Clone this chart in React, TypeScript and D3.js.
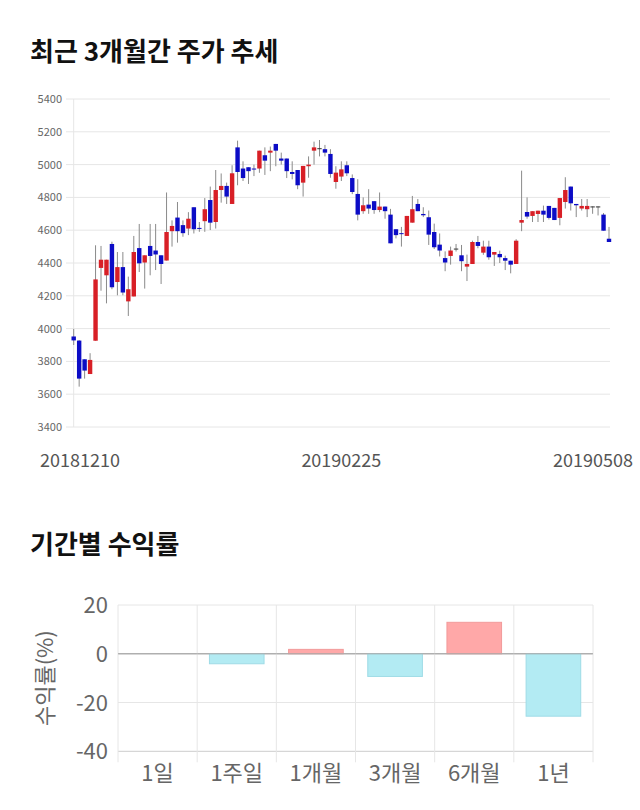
import React from "react";
import * as d3 from "d3";

// ---- Candlestick data (daily, 20181210 .. 20190508) ----
const opens = [
  3952, 3927, 3813, 3723, 3926, 4370, 4325, 4516, 4284, 4375,
  4166, 4196, 4491, 4403, 4504, 4476, 4447, 4415, 4594, 4677,
  4631, 4610, 4740, 4614, 4655, 4784, 4650, 4845, 4870, 4760,
  5105, 4976, 4984, 4976, 4976, 5057, 5073, 5126, 5037, 5037,
  4955, 4967, 4890, 4990, 5085, 5100, 5094, 5065, 4894, 4927,
  4996, 4918, 4821, 4716, 4756, 4777, 4723, 4744, 4695, 4606,
  4582, 4565, 4646, 4760, 4699, 4679, 4589, 4512, 4430, 4443,
  4488, 4447, 4378, 4394, 4528, 4463, 4500, 4451, 4455, 4430,
  4414, 4394, 4646, 4711, 4687, 4699, 4719, 4748, 4736, 4675,
  4772, 4866, 4760, 4732, 4728, 4745, 4745, 4695, 4548,
];
const closes = [
  3928, 3695, 3744, 3809, 4300, 4420, 4420, 4252, 4375, 4220,
  4240, 4467, 4398, 4447, 4443, 4452, 4394, 4589, 4626, 4594,
  4582, 4670, 4606, 4608, 4728, 4646, 4845, 4870, 4805, 4947,
  4955, 4918, 4960, 4970, 5085, 5024, 5085, 5085, 5024, 4960,
  4943, 4874, 4992, 5000, 5105, 5100, 5073, 4943, 4951, 4971,
  4947, 4833, 4695, 4752, 4732, 4723, 4744, 4716, 4520, 4570,
  4578, 4687, 4728, 4716, 4691, 4573, 4496, 4476, 4403, 4476,
  4488, 4411, 4394, 4528, 4504, 4500, 4435, 4467, 4435, 4414,
  4390, 4536, 4662, 4683, 4716, 4719, 4695, 4675, 4662, 4796,
  4845, 4764, 4752, 4748, 4748, 4745, 4745, 4597, 4528,
];
const highs = [
  3998, 3930, 3813, 3850, 4508, 4504, 4420, 4530, 4467, 4467,
  4317, 4565, 4638, 4447, 4638, 4638, 4447, 4830, 4660, 4772,
  4660, 4710, 4740, 4650, 4796, 4866, 4967, 4946, 4890, 4996,
  5146, 5020, 4984, 5000, 5085, 5105, 5110, 5126, 5073, 5037,
  5020, 4967, 4992, 5050, 5140, 5150, 5120, 5094, 4990, 5020,
  5020, 4940, 4911, 4800, 4850, 4777, 4830, 4744, 4730, 4606,
  4620, 4687, 4809, 4790, 4740, 4720, 4640, 4580, 4471, 4500,
  4516, 4510, 4451, 4536, 4565, 4536, 4536, 4467, 4475, 4445,
  4414, 4545, 4963, 4800, 4716, 4719, 4750, 4748, 4736, 4796,
  4923, 4866, 4760, 4790, 4790, 4745, 4745, 4705, 4620,
];
const lows = [
  3900, 3646, 3695, 3723, 3926, 4231, 4154, 4240, 4203, 4203,
  4077, 4196, 4345, 4244, 4325, 4357, 4272, 4415, 4500, 4524,
  4560, 4570, 4580, 4590, 4590, 4601, 4610, 4768, 4760, 4760,
  4874, 4900, 4882, 4930, 4950, 4937, 4960, 4990, 5000, 4918,
  4910, 4850, 4805, 4920, 5000, 5050, 5050, 4920, 4853, 4900,
  4930, 4820, 4660, 4700, 4700, 4700, 4710, 4670, 4520, 4550,
  4500, 4565, 4646, 4716, 4680, 4510, 4485, 4440, 4350, 4390,
  4470, 4350, 4290, 4394, 4490, 4450, 4420, 4382, 4400, 4357,
  4337, 4394, 4594, 4670, 4650, 4650, 4650, 4665, 4662, 4630,
  4732, 4720, 4680, 4720, 4680, 4700, 4690, 4597, 4528,
];
const priceTicks = [3400, 3600, 3800, 4000, 4200, 4400, 4600, 4800, 5000, 5200, 5400];
const dateTickIndex = [0, 49, 98];
const dateTickLabels = ["20181210", "20190225", "20190508"];

// ---- Period returns ----
const periods = ["1일", "1주일", "1개월", "3개월", "6개월", "1년"];
const returns = [0, -4.1, 1.8, -9.3, 12.9, -25.6];
const returnTicks = [20, 0, -20, -40];

const FONT = "'Noto Sans CJK KR', 'Noto Sans', sans-serif";

export default function App() {
  const n = opens.length;
  const x = d3.scaleLinear().domain([0, n - 1]).range([73.7, 609]);
  const y = d3.scaleLinear().domain([3400, 5400]).range([427, 99]);
  const bw = 4.4;

  const xb = d3.scaleBand<string>().domain(periods).range([118, 593]);
  const yb = d3.scaleLinear().domain([-40, 20]).range([751.3, 605]);
  const barW = xb.bandwidth() * 0.69;

  const labelW = 80;
  const dateX = dateTickIndex.map((i) => {
    let c = x(i);
    c = Math.max(c, 40 + labelW / 2);
    c = Math.min(c, 633 - labelW / 2);
    return c;
  });

  return (
    <svg
      width={640}
      height={810}
      style={{ position: "absolute", left: 0, top: 0, background: "#fff" }}
      fontFamily={FONT}
    >
      {/* Title 1 */}
      <text x={30} y={61} fontSize={26} fontWeight="bold" fill="#111">
        최근 3개월간 주가 추세
      </text>

      {/* price grid */}
      {priceTicks.map((t) => (
        <g key={t}>
          <line x1={66} x2={610} y1={y(t)} y2={y(t)} stroke="#e6e6e6" strokeWidth={1} />
          <text x={62} y={y(t) + 4} fontSize={11} fill="#666" textAnchor="end">
            {t}
          </text>
        </g>
      ))}
      <line x1={x(0)} x2={x(0)} y1={y(5400)} y2={y(3400)} stroke="#e6e6e6" />

      {/* candles */}
      {opens.map((o, i) => {
        const c = closes[i];
        const up = c > o;
        const flat = c === o;
        const color = flat ? "#333" : up ? "#d81f26" : "#0c0cc6";
        const top = y(Math.max(o, c));
        const h = Math.max(1, Math.abs(y(o) - y(c)));
        return (
          <g key={i}>
            <line
              x1={x(i)}
              x2={x(i)}
              y1={y(highs[i])}
              y2={y(lows[i])}
              stroke="#8a8a8a"
              strokeWidth={1}
            />
            <rect x={x(i) - bw / 2} y={top} width={bw} height={h} fill={color} />
          </g>
        );
      })}

      {/* date labels */}
      {dateTickLabels.map((l, k) => (
        <text key={l} x={dateX[k]} y={467} fontSize={18} fill="#555" textAnchor="middle">
          {l}
        </text>
      ))}

      {/* Title 2 */}
      <text x={30} y={554} fontSize={26} fontWeight="bold" fill="#111">
        기간별 수익률
      </text>

      {/* returns grid */}
      {returnTicks.map((t) => (
        <g key={t}>
          <line
            x1={118}
            x2={593}
            y1={yb(t)}
            y2={yb(t)}
            stroke={t === 0 ? "#aaa" : t === -40 ? "#ccc" : "#e6e6e6"}
          />
          <text x={108} y={yb(t) + 8} fontSize={22} fill="#666" textAnchor="end">
            {t}
          </text>
        </g>
      ))}
      {periods.map((p) => (
        <line
          key={"v" + p}
          x1={xb(p)!}
          x2={xb(p)!}
          y1={yb(20)}
          y2={yb(-40) + 11}
          stroke="#e6e6e6"
        />
      ))}
      <line x1={593} x2={593} y1={yb(20)} y2={yb(-40) + 11} stroke="#e6e6e6" />

      {/* bars */}
      {periods.map((p, i) => {
        const v = returns[i];
        if (v === 0) return null;
        const cx = xb(p)! + xb.bandwidth() / 2;
        const y0 = yb(0);
        const y1 = yb(v);
        return (
          <rect
            key={p}
            x={cx - barW / 2}
            y={Math.min(y0, y1)}
            width={barW}
            height={Math.abs(y1 - y0)}
            fill={v > 0 ? "#ffa8a8" : "#b3ebf3"}
            stroke={v > 0 ? "#f29a9a" : "#9fdbe6"}
            strokeWidth={1}
          />
        );
      })}
      {/* zero line on top */}
      <line x1={118} x2={593} y1={yb(0)} y2={yb(0)} stroke="#aaa" />

      {/* category labels */}
      {periods.map((p) => (
        <text
          key={"l" + p}
          x={xb(p)! + xb.bandwidth() / 2}
          y={781}
          fontSize={22}
          fill="#666"
          textAnchor="middle"
        >
          {p}
        </text>
      ))}

      {/* y axis title */}
      <text
        transform={`translate(53, ${yb(-10)}) rotate(-90)`}
        fontSize={22}
        fill="#666"
        textAnchor="middle"
      >
        수익률(%)
      </text>
    </svg>
  );
}
